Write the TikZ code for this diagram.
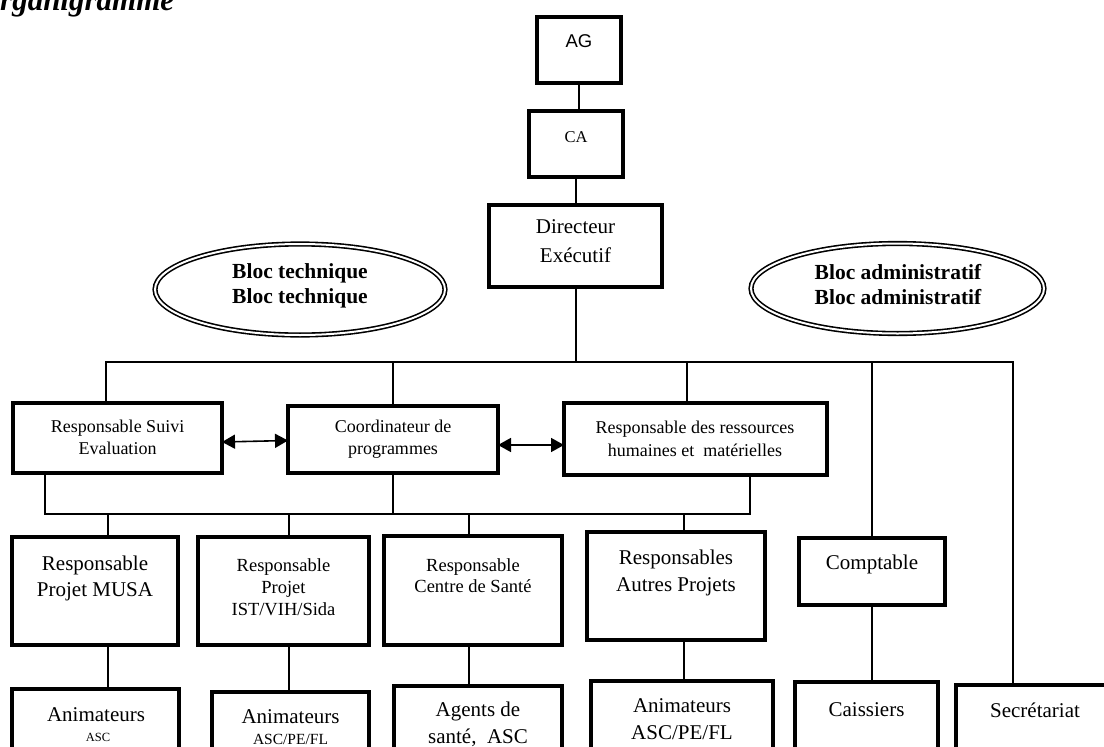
\documentclass[tikz,border=0pt]{standalone}
\usepackage{fontspec}
\setmainfont{Liberation Serif}
\setsansfont{Liberation Sans}
\usetikzlibrary{shapes.geometric,arrows.meta}
\newcommand\fsz[2]{\fontsize{#1}{#2}\selectfont}
\begin{document}
\begin{tikzpicture}[x=1pt,y=-1pt,
  box/.style={draw, line width=3.5pt, rectangle, inner sep=0pt, outer sep=0pt},
  txt/.style={inner sep=0pt, outer sep=0pt, align=center, font=\fsz{21}{26}},
  smalltxt/.style={inner sep=0pt, outer sep=0pt, align=center, font=\fsz{18}{22}},
  conn/.style={line width=2pt},
  twoarr/.style={line width=1.6pt, {Triangle[length=13pt,width=14pt]}-{Triangle[length=13pt,width=14pt]}},
  bloc/.style={ellipse, draw, double, double distance=2pt, line width=1.6pt, inner sep=0pt, outer sep=0pt},
  bloctxt/.style={inner sep=0pt, align=center, font=\bfseries\fsz{21.5}{25}}
]
\useasboundingbox (0,0) rectangle (1104,747);

% title (cropped)
\node[anchor=base west, inner sep=0pt, font=\bfseries\itshape\fsz{31}{34}] (title) at (0,10) {rganigramme};

% top chain
\node[box, minimum width=84pt, minimum height=66pt] (AG) at (579,50) {};
\node[inner sep=0pt, font=\sffamily\fsz{18.5}{20}] (AGt) at (579,41) {AG};
\node[box, minimum width=94pt, minimum height=66pt] (CA) at (576,144) {};
\node[inner sep=0pt, font=\fsz{16.5}{18}] (CAt) at (576,137) {CA};
\node[box, minimum width=173pt, minimum height=82pt] (Dir) at (575.5,246) {};
\node[txt, font=\fsz{21}{29}] (Dirt) at (575.5,241) {Directeur\\Exécutif};

% ellipses
\node[bloc, minimum width=290pt, minimum height=91pt] (tech) at (300,289.5) {};
\node[bloctxt] (techt) at (300,285.5) {Bloc technique\\Bloc technique};
\node[bloc, minimum width=293pt, minimum height=90pt] (adm) at (897.5,288.5) {};
\node[bloctxt] (admt) at (898,285) {Bloc administratif\\Bloc administratif};

% row 1
\node[box, minimum width=209pt, minimum height=70pt] (Suivi) at (117.5,438) {};
\node[smalltxt] (Suivit) at (117.5,437.5) {Responsable Suivi\\Evaluation};
\node[box, minimum width=210pt, minimum height=67pt] (Coord) at (393,439.5) {};
\node[smalltxt] (Coordt) at (393,439) {Coordinateur de\\programmes};
\node[box, minimum width=263pt, minimum height=72pt] (RR) at (695.5,439) {};
\node[smalltxt, font=\fsz{18}{23}] (RRt) at (695,438.5) {Responsable des ressources\\humaines et\ \ matérielles};

% row 2
\node[box, minimum width=166pt, minimum height=108pt] (MUSA) at (95,591) {};
\node[txt] (MUSAt) at (95,578) {Responsable\\Projet MUSA};
\node[box, minimum width=171pt, minimum height=108pt] (IST) at (283.5,591) {};
\node[smalltxt, font=\fsz{18.5}{22}] (ISTt) at (283.5,587) {Responsable\\Projet\\IST/VIH/Sida};
\node[box, minimum width=178pt, minimum height=109pt] (Centre) at (473,590.5) {};
\node[smalltxt, font=\fsz{18.5}{21}] (Centret) at (473,576) {Responsable\\Centre de Santé};
\node[box, minimum width=178pt, minimum height=108pt] (Autres) at (676,586) {};
\node[txt, font=\fsz{21}{27}] (Autrest) at (676,572.5) {Responsables\\Autres Projets};
\node[box, minimum width=146pt, minimum height=67pt] (Compt) at (872,571.5) {};
\node[txt] (Comptt) at (872,564) {Comptable};

% row 3 (cut by the page bottom)
\node[box, minimum width=167pt, minimum height=71pt] (AnimA) at (95.5,724.5) {};
\node[txt] (AnimAt) at (96,715) {Animateurs};
\node[inner sep=0pt, font=\fsz{12.5}{14}] (AnimAs) at (98,737) {ASC};
\node[box, minimum width=157pt, minimum height=68pt] (AnimI) at (290.5,726) {};
\node[txt] (AnimIt) at (290.5,717) {Animateurs};
\node[inner sep=0pt, font=\fsz{15.5}{17}] (AnimIs) at (290.5,739) {ASC/PE/FL};
\node[box, minimum width=168pt, minimum height=74pt] (Agents) at (478,723) {};
\node[txt, font=\fsz{21}{27}] (Agentst) at (478,724) {Agents de\\santé,\ \ ASC};
\node[box, minimum width=182pt, minimum height=79pt] (AnimO) at (682,720.5) {};
\node[txt, font=\fsz{21}{27}] (AnimOt) at (682,719) {Animateurs\\ASC/PE/FL};
\node[box, minimum width=143pt, minimum height=78pt] (Caiss) at (866.5,721) {};
\node[txt] (Caisst) at (866.5,710) {Caissiers};
\node[box, minimum width=158pt, minimum height=75pt] (Secr) at (1035,722.5) {};
\node[txt] (Secrt) at (1035,710) {Secrétariat};

% top chain connectors
\draw[conn] (AG.south) -- (AG.south |- CA.north);
\draw[conn] (CA.south) -- (CA.south |- Dir.north);

% upper bus
\coordinate (t1) at (106,362);
\coordinate (t3) at (687,362);
\coordinate (t5) at (1013,362);
\draw[conn] (t1 |- Suivi.north) -- (t1) -- (t5) -- (t5 |- Secr.north);
\draw[conn] (Dir.south) -- (Dir.south |- t1);
\draw[conn] (Coord.north) -- (Coord.north |- t1);
\draw[conn] (t3) -- (t3 |- RR.north);
\draw[conn] (Compt.north) -- (Compt.north |- t1);

% arrows between row-1 boxes
\draw[twoarr] ([yshift=-4pt]Suivi.east) -- ([yshift=-1pt]Coord.west);
\draw[twoarr] ([yshift=-5.5pt]Coord.east) -- ([yshift=-6pt]RR.west);

% lower bus
\coordinate (b1) at (45,514);
\coordinate (b5) at (750,514);
\coordinate (d1) at (108,514);
\coordinate (d2) at (289,514);
\coordinate (d3) at (469,514);
\coordinate (d4) at (684,514);
\draw[conn] (b1 |- Suivi.south) -- (b1) -- (b5) -- (b5 |- RR.south);
\draw[conn] (Coord.south) -- (Coord.south |- b1);
\draw[conn] (d1) -- (d1 |- MUSA.north);
\draw[conn] (d2) -- (d2 |- IST.north);
\draw[conn] (d3) -- (d3 |- Centre.north);
\draw[conn] (d4) -- (d4 |- Autres.north);

% down to row 3
\draw[conn] (d1 |- MUSA.south) -- (d1 |- AnimA.north);
\draw[conn] (d2 |- IST.south) -- (d2 |- AnimI.north);
\draw[conn] (d3 |- Centre.south) -- (d3 |- Agents.north);
\draw[conn] (d4 |- Autres.south) -- (d4 |- AnimO.north);
\draw[conn] (Compt.south) -- (Compt.south |- Caiss.north);
\end{tikzpicture}
\end{document}
